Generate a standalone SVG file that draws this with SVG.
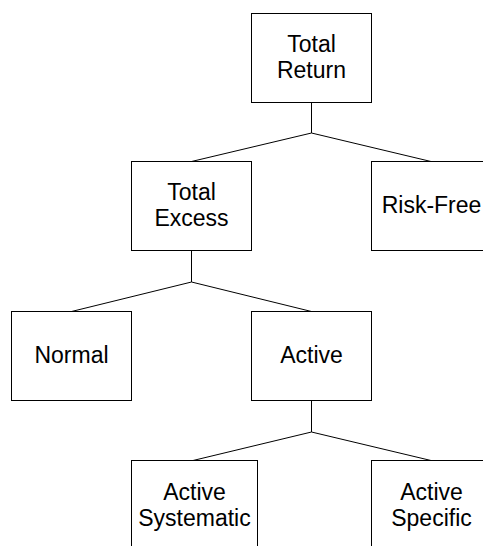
<svg xmlns="http://www.w3.org/2000/svg" width="483" height="546" viewBox="0 0 483 546">
<style>
.box{fill:#fff;stroke:#000;stroke-width:1}
.lbl{font-family:"Liberation Sans",Arial,sans-serif;font-size:23px;fill:#000;text-anchor:middle}
.con{fill:none;stroke:#000;stroke-width:1}
</style>
<rect width="483" height="546" fill="#fff"/>
<g id="connectors">
<polyline class="con" points="311.5,102.5 311.5,133 191.5,161.5"/>
<polyline class="con" points="311.5,133 431,161.5"/>
<polyline class="con" points="191.5,250.5 191.5,282 71.5,311.5"/>
<polyline class="con" points="191.5,282 311.5,311.5"/>
<polyline class="con" points="311.5,400.5 311.5,432 193,460.5"/>
<polyline class="con" points="311.5,432 431,460.5"/>
</g>
<g id="total-return">
<rect class="box" x="251.5" y="13.5" width="120" height="89"/>
<text class="lbl" x="311.5" y="52">Total</text>
<text class="lbl" x="311.5" y="77.5">Return</text>
</g>
<g id="total-excess">
<rect class="box" x="131.5" y="161.5" width="120" height="89"/>
<text class="lbl" x="191.5" y="200">Total</text>
<text class="lbl" x="191.5" y="225.5">Excess</text>
</g>
<g id="risk-free">
<rect class="box" x="371.5" y="161.5" width="120" height="89"/>
<text class="lbl" x="431.5" y="213">Risk-Free</text>
</g>
<g id="normal">
<rect class="box" x="11.5" y="311.5" width="120" height="89"/>
<text class="lbl" x="71.5" y="363">Normal</text>
</g>
<g id="active">
<rect class="box" x="251.5" y="311.5" width="120" height="89"/>
<text class="lbl" x="311.5" y="363">Active</text>
</g>
<g id="active-systematic">
<rect class="box" x="131.5" y="460.5" width="126" height="100"/>
<text class="lbl" x="194.5" y="500">Active</text>
<text class="lbl" x="194.5" y="526">Systematic</text>
</g>
<g id="active-specific">
<rect class="box" x="371.5" y="460.5" width="120" height="100"/>
<text class="lbl" x="431.5" y="500">Active</text>
<text class="lbl" x="431.5" y="526">Specific</text>
</g>
</svg>
